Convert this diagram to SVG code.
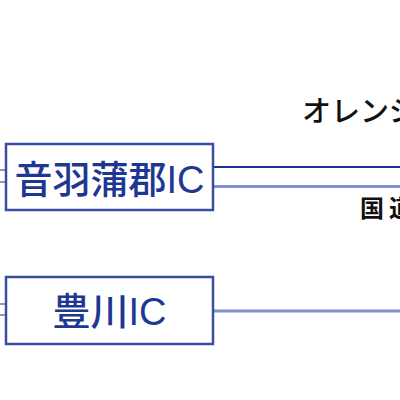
<svg xmlns="http://www.w3.org/2000/svg" width="400" height="400" viewBox="0 0 400 400">
<style>
.box{fill:#fff;stroke:#3a4ea5;stroke-width:2.5}
.lbl{font-family:"Liberation Sans","Noto Sans CJK JP",sans-serif;font-size:38px;font-weight:500;fill:#1e3792;text-anchor:middle}
.txt{font-family:"Noto Sans CJK JP","Liberation Sans",sans-serif;fill:#111}
.dark{stroke:#1a2f8f;stroke-width:2;fill:none}
.light{stroke:#8090c8;stroke-width:3;fill:none}
.stub{stroke:#8898cc;stroke-width:2;fill:none}
</style>
<rect width="400" height="400" fill="#fff"/>
<g id="connectors">
<line class="dark" x1="213" y1="167" x2="400" y2="167"/>
<line class="light" x1="213" y1="186.5" x2="400" y2="186.5"/>
<line class="light" x1="213" y1="311" x2="400" y2="311"/>
<line class="stub" x1="0" y1="170" x2="6" y2="170"/>
<line class="stub" x1="0" y1="182" x2="6" y2="182"/>
<line class="stub" x1="0" y1="304" x2="6" y2="304"/>
<line class="stub" x1="0" y1="315" x2="6" y2="315"/>
</g>
<g id="node-otowa">
<rect class="box" x="6" y="144" width="207" height="66"/>
<text class="lbl" x="109.5" y="193">音羽蒲郡IC</text>
</g>
<g id="node-toyokawa">
<rect class="box" x="6" y="277" width="207" height="67"/>
<text class="lbl" x="109.5" y="325">豊川IC</text>
</g>
<text class="txt" x="302" y="122" font-size="29" font-weight="500">オレンジロード</text>
<text class="txt" x="360" y="217" font-size="24" font-weight="700" letter-spacing="5">国道</text>
</svg>
